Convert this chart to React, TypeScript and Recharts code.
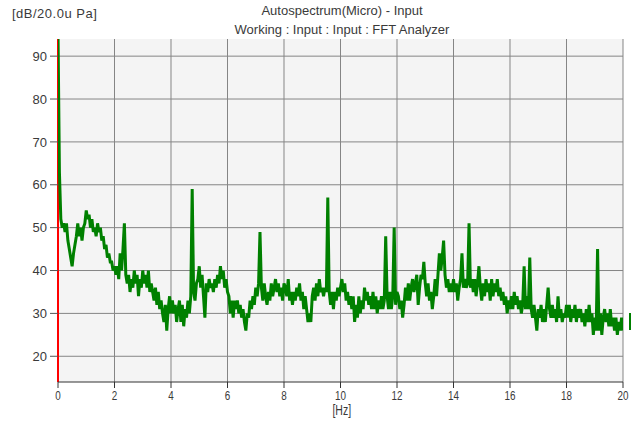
import React from 'react';
import { LineChart, Line, XAxis, YAxis, CartesianGrid, ReferenceLine } from 'recharts';

// FFT bin spacing in Hz
const BIN = 0.05;

// levels in dB, read per 2 Hz band (first band includes the 0 Hz bin)
const band0 = [96, 63, 52, 50, 51, 49, 51, 47, 45, 43, 41, 44, 46, 48, 51, 48, 50, 47, 50, 51, 54, 52, 53, 50, 52, 49, 50, 48, 51, 49, 50, 47, 48, 45, 46, 43, 44, 42, 42, 40, 41];
const band2 = [39, 41, 38, 44, 40, 45, 51, 39, 37, 39, 35, 38, 36, 40, 37, 39, 34, 38, 36, 40, 37, 39, 36, 40, 35, 37, 35, 33, 36, 32, 35, 31, 33, 30, 28, 32, 26, 31, 34, 30];
const band4 = [33, 30, 32, 28, 31, 33, 28, 32, 27, 31, 29, 33, 30, 34, 59, 35, 33, 37, 38, 41, 36, 39, 34, 29, 37, 35, 38, 36, 37, 35, 38, 36, 39, 37, 41, 38, 40, 36, 38, 35];
const band6 = [34, 30, 33, 29, 33, 31, 33, 30, 32, 29, 31, 28, 26, 30, 29, 33, 31, 34, 32, 36, 34, 37, 49, 36, 33, 37, 34, 32, 35, 33, 37, 34, 36, 38, 35, 37, 34, 36, 33, 37];
const band8 = [36, 34, 38, 33, 35, 32, 35, 33, 36, 34, 37, 33, 35, 31, 34, 31, 28, 30, 28, 34, 36, 33, 37, 34, 38, 35, 36, 34, 36, 35, 57, 35, 32, 35, 31, 35, 33, 36, 34, 36];
const band10 = [38, 35, 37, 33, 35, 32, 34, 31, 34, 28, 32, 29, 34, 30, 33, 31, 36, 33, 35, 32, 34, 31, 35, 31, 34, 30, 33, 31, 34, 31, 33, 48, 34, 31, 35, 31, 34, 50, 32, 35];
const band12 = [34, 31, 33, 29, 32, 36, 33, 37, 33, 36, 38, 35, 37, 39, 32, 36, 39, 38, 42, 37, 34, 37, 33, 35, 31, 34, 38, 34, 39, 44, 40, 43, 47, 39, 36, 38, 35, 37, 35, 38];
const band14 = [35, 37, 33, 36, 38, 44, 36, 38, 36, 37, 51, 36, 38, 35, 38, 34, 37, 41, 36, 33, 37, 34, 38, 35, 37, 33, 38, 34, 37, 35, 38, 34, 36, 33, 35, 32, 34, 30, 33, 31];
const band16 = [34, 31, 35, 32, 34, 31, 33, 30, 32, 41, 31, 34, 31, 43, 31, 29, 32, 29, 26, 31, 29, 32, 28, 31, 28, 32, 36, 31, 29, 32, 29, 31, 28, 34, 29, 31, 28, 30, 29, 32];
const band18 = [29, 32, 28, 31, 29, 32, 28, 31, 29, 31, 28, 30, 27, 31, 28, 32, 28, 30, 25, 29, 26, 45, 26, 30, 25, 29, 31, 28, 30, 27, 31, 27, 29, 26, 29, 25, 28, 26, 29, 26];

const xTicks = [0, 2, 4, 6, 8, 10, 12, 14, 16, 18, 20];
const yTicks = [20, 30, 40, 50, 60, 70, 80, 90];

const levels = [...band0, ...band2, ...band4, ...band6, ...band8, ...band10, ...band12, ...band14, ...band16, ...band18];
const data = levels.map((v, i) => ({ f: Math.round(i * BIN * 100) / 100, level: v }));

const font = '"Liberation Sans", Arial, sans-serif';
const textColor = '#3a3a3a';

const XTick = (props: any) => {
  const { x, y, payload } = props;
  return (
    <g transform={`translate(${x},${y})`}>
      <text transform="scale(0.76,1)" x={0} y={0} dy={10} textAnchor="middle" fill={textColor} fontSize={13} fontFamily={font}>
        {payload.value}
      </text>
    </g>
  );
};

export default function App() {
  return (
    <div style={{ position: 'absolute', left: 0, top: 0, width: 633, height: 421, background: '#fff', fontFamily: font, color: textColor }}>
      <div style={{ position: 'absolute', left: 12, top: 6, fontSize: 13, letterSpacing: 0.5, lineHeight: '15px' }}>[dB/20.0u Pa]</div>
      <div style={{ position: 'absolute', left: 0, width: 684, top: 3, fontSize: 13, lineHeight: '15px', textAlign: 'center' }}>Autospectrum(Micro) - Input</div>
      <div style={{ position: 'absolute', left: 0, width: 684, top: 22, fontSize: 13, lineHeight: '15px', textAlign: 'center' }}>Working : Input : Input : FFT Analyzer</div>
      <LineChart width={633} height={421} data={data} margin={{ top: 39, right: 10, bottom: 0, left: 8 }}>
        <CartesianGrid stroke="#858585" fill="#f4f4f4" horizontalValues={yTicks} verticalValues={xTicks} />
        <XAxis
          type="number"
          dataKey="f"
          domain={[0, 20]}
          ticks={xTicks}
          allowDataOverflow
          height={39}
          tickSize={6}
          tickMargin={2}
          tick={<XTick />}
          stroke="#333"
        />
        <YAxis
          type="number"
          domain={[14, 94]}
          ticks={yTicks}
          allowDataOverflow
          width={50}
          tickSize={8}
          tickMargin={3}
          axisLine={false}
          tick={{ fill: textColor, fontSize: 13, fontFamily: font }}
          stroke="#555"
        />
        <ReferenceLine x={0} stroke="#ff0000" strokeWidth={2} />
        <Line type="linear" dataKey="level" stroke="#008000" strokeWidth={3} dot={false} isAnimationActive={false} />
      </LineChart>
      <div style={{ position: 'absolute', left: 0, width: 684, top: 404, fontSize: 14, lineHeight: '12px', textAlign: 'center', transform: 'scaleX(0.75)', transformOrigin: '341px 0' }}>[Hz]</div>
      <div style={{ position: 'absolute', left: 629, top: 313, width: 2, height: 17, background: '#008000' }} />
    </div>
  );
}
